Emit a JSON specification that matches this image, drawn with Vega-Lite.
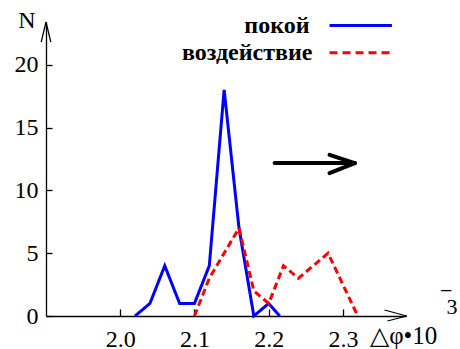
{
  "$schema": "https://vega.github.io/schema/vega-lite/v6.json",
  "width": 360,
  "height": 294,
  "autosize": "none",
  "padding": {"left": 46, "top": 22, "right": 54, "bottom": 33},
  "background": "white",
  "config": {
    "view": {"stroke": null},
    "font": "Liberation Serif, Times New Roman, DejaVu Serif, serif",
    "axis": {"labelFont": "Liberation Serif, Times New Roman, DejaVu Serif, serif"}
  },
  "datasets": {
    "series": [
      {"phi": 2.02, "N": 0, "s": "покой"},
      {"phi": 2.04, "N": 1, "s": "покой"},
      {"phi": 2.06, "N": 4, "s": "покой"},
      {"phi": 2.08, "N": 1, "s": "покой"},
      {"phi": 2.10, "N": 1, "s": "покой"},
      {"phi": 2.12, "N": 4, "s": "покой"},
      {"phi": 2.14, "N": 18, "s": "покой"},
      {"phi": 2.16, "N": 7, "s": "покой"},
      {"phi": 2.18, "N": 0, "s": "покой"},
      {"phi": 2.20, "N": 1, "s": "покой"},
      {"phi": 2.215, "N": 0, "s": "покой"},
      {"phi": 2.10, "N": 0, "s": "воздействие"},
      {"phi": 2.12, "N": 3, "s": "воздействие"},
      {"phi": 2.16, "N": 7, "s": "воздействие"},
      {"phi": 2.18, "N": 2, "s": "воздействие"},
      {"phi": 2.20, "N": 1, "s": "воздействие"},
      {"phi": 2.22, "N": 4, "s": "воздействие"},
      {"phi": 2.24, "N": 3, "s": "воздействие"},
      {"phi": 2.28, "N": 5, "s": "воздействие"},
      {"phi": 2.32, "N": 0, "s": "воздействие"}
    ],
    "one": [{}]
  },
  "layer": [
    {
      "data": {"name": "series"},
      "mark": {"type": "line", "strokeWidth": 3, "clip": false},
      "encoding": {
        "x": {
          "field": "phi", "type": "quantitative",
          "scale": {"domain": [1.9, 2.385], "nice": false, "zero": false},
          "axis": {
            "values": [2.0, 2.1, 2.2, 2.3], "format": ".1f", "grid": false, "title": null,
            "domainColor": "black", "domainWidth": 1.3, "tickColor": "black", "tickWidth": 1.3,
            "tickSize": -7, "labelFont": "Liberation Serif, Times New Roman, DejaVu Serif, serif", "labelFontSize": 24,
            "labelColor": "black", "labelPadding": 18, "labelFlush": false, "labelOverlap": false
          }
        },
        "y": {
          "field": "N", "type": "quantitative",
          "scale": {"domain": [0, 23.4], "nice": false},
          "axis": {
            "values": [0, 5, 10, 15, 20], "grid": false, "title": null,
            "domainColor": "black", "domainWidth": 1.3, "tickColor": "black", "tickWidth": 1.3,
            "tickSize": -6, "labelFont": "Liberation Serif, Times New Roman, DejaVu Serif, serif", "labelFontSize": 24,
            "labelColor": "black", "labelPadding": 14, "labelOverlap": false
          }
        },
        "color": {
          "field": "s", "type": "nominal",
          "scale": {"domain": ["покой", "воздействие"], "range": ["#0000ff", "#ff0000"]},
          "legend": null
        },
        "strokeDash": {
          "field": "s", "type": "nominal",
          "scale": {"domain": ["покой", "воздействие"], "range": [[1, 0], [7, 4]]},
          "legend": null
        }
      }
    },
    {
      "data": {"name": "one"},
      "mark": {"type": "rule", "color": "black", "strokeWidth": 4, "strokeCap": "round", "clip": false},
      "encoding": {
        "x": {"datum": 2.208}, "x2": {"datum": 2.316},
        "y": {"datum": 12.17}, "y2": {"datum": 12.17}
      }
    },
    {
      "data": {"name": "one"},
      "mark": {"type": "rule", "color": "black", "strokeWidth": 4, "strokeCap": "round", "clip": false},
      "encoding": {
        "x": {"datum": 2.282}, "x2": {"datum": 2.316},
        "y": {"datum": 12.83}, "y2": {"datum": 12.17}
      }
    },
    {
      "data": {"name": "one"},
      "mark": {"type": "rule", "color": "black", "strokeWidth": 4, "strokeCap": "round", "clip": false},
      "encoding": {
        "x": {"datum": 2.282}, "x2": {"datum": 2.316},
        "y": {"datum": 11.37}, "y2": {"datum": 12.17}
      }
    },
    {
      "data": {"name": "one"},
      "mark": {"type": "rule", "color": "black", "strokeWidth": 1.3, "clip": false},
      "encoding": {
        "x": {"datum": 1.8935}, "x2": {"datum": 1.9},
        "y": {"datum": 21.8}, "y2": {"datum": 23.4}
      }
    },
    {
      "data": {"name": "one"},
      "mark": {"type": "rule", "color": "black", "strokeWidth": 1.3, "clip": false},
      "encoding": {
        "x": {"datum": 1.9065}, "x2": {"datum": 1.9},
        "y": {"datum": 21.8}, "y2": {"datum": 23.4}
      }
    },
    {
      "data": {"name": "one"},
      "mark": {"type": "rule", "color": "black", "strokeWidth": 1.2, "clip": false},
      "encoding": {
        "x": {"datum": 2.356}, "x2": {"datum": 2.386},
        "y": {"datum": 0.48}, "y2": {"datum": 0}
      }
    },
    {
      "data": {"name": "one"},
      "mark": {"type": "rule", "color": "black", "strokeWidth": 1.2, "clip": false},
      "encoding": {
        "x": {"datum": 2.36}, "x2": {"datum": 2.386},
        "y": {"datum": -0.4}, "y2": {"datum": 0}
      }
    },
    {
      "data": {"name": "one"},
      "mark": {"type": "rule", "color": "#0000ff", "strokeWidth": 3, "clip": false},
      "encoding": {
        "x": {"datum": 2.282}, "x2": {"datum": 2.366},
        "y": {"datum": 23.13}, "y2": {"datum": 23.13}
      }
    },
    {
      "data": {"name": "one"},
      "mark": {"type": "rule", "color": "#ff0000", "strokeWidth": 3, "strokeDash": [8, 5], "clip": false},
      "encoding": {
        "x": {"datum": 2.282}, "x2": {"datum": 2.366},
        "y": {"datum": 20.96}, "y2": {"datum": 20.96}
      }
    },
    {
      "data": {"name": "one"},
      "mark": {"type": "text", "text": "покой", "font": "Liberation Serif, Times New Roman, DejaVu Serif, serif", "fontSize": 24, "fontWeight": "bold", "align": "right", "baseline": "alphabetic", "color": "black", "clip": false},
      "encoding": {"x": {"datum": 2.255}, "y": {"datum": 22.53}}
    },
    {
      "data": {"name": "one"},
      "mark": {"type": "text", "text": "воздействие", "font": "Liberation Serif, Times New Roman, DejaVu Serif, serif", "fontSize": 24, "fontWeight": "bold", "align": "right", "baseline": "alphabetic", "color": "black", "clip": false},
      "encoding": {"x": {"datum": 2.259}, "y": {"datum": 20.4}}
    },
    {
      "data": {"name": "one"},
      "mark": {"type": "text", "text": "N", "font": "Liberation Serif, Times New Roman, DejaVu Serif, serif", "fontSize": 24, "align": "left", "baseline": "alphabetic", "color": "black", "clip": false},
      "encoding": {"x": {"datum": 1.8625}, "y": {"datum": 22.95}}
    },
    {
      "data": {"name": "one"},
      "mark": {"type": "text", "text": "△φ•10", "font": "Liberation Serif, Times New Roman, DejaVu Serif, serif", "fontSize": 25, "align": "left", "baseline": "alphabetic", "color": "black", "clip": false},
      "encoding": {"x": {"datum": 2.3364}, "y": {"datum": -2.23}}
    },
    {
      "data": {"name": "one"},
      "mark": {"type": "text", "text": "−", "font": "Liberation Serif, Times New Roman, DejaVu Serif, serif", "fontSize": 22, "align": "left", "baseline": "alphabetic", "color": "black", "clip": false},
      "encoding": {"x": {"datum": 2.4307}, "y": {"datum": 1.47}}
    },
    {
      "data": {"name": "one"},
      "mark": {"type": "text", "text": "3", "font": "Liberation Serif, Times New Roman, DejaVu Serif, serif", "fontSize": 22, "align": "left", "baseline": "alphabetic", "color": "black", "clip": false},
      "encoding": {"x": {"datum": 2.4395}, "y": {"datum": 0.16}}
    }
  ]
}
